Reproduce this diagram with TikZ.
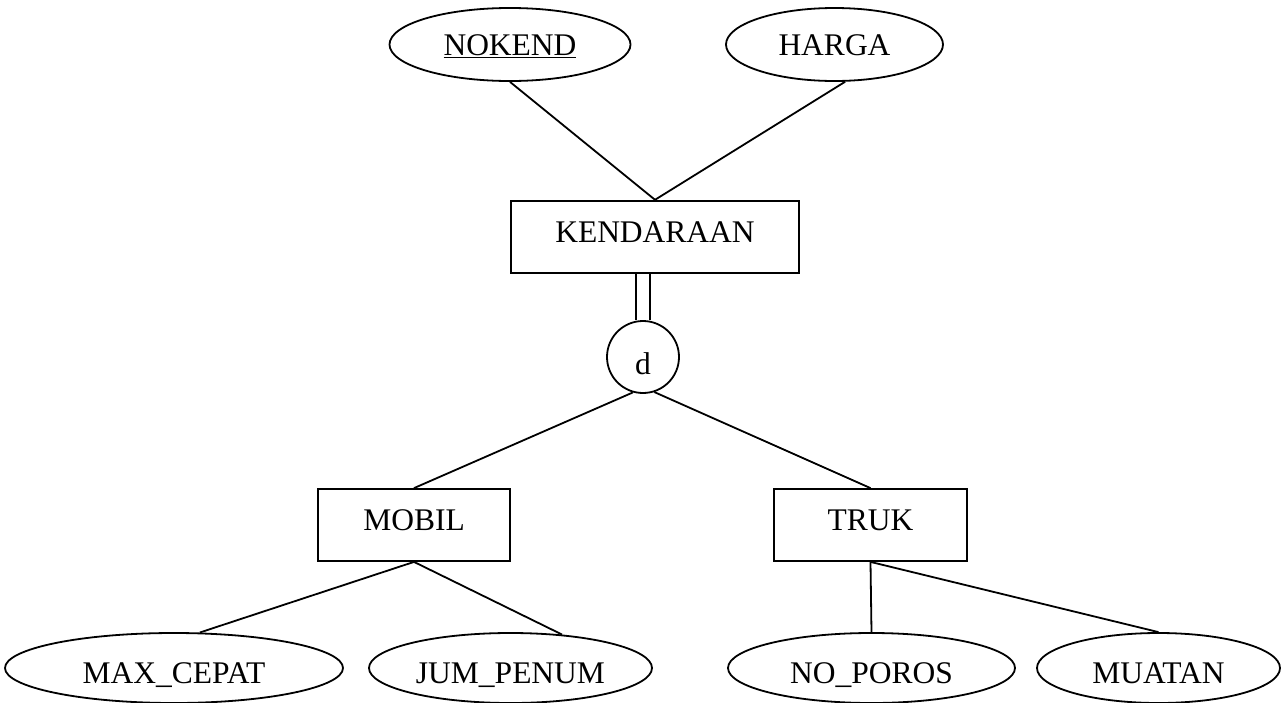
\documentclass[tikz,border=0pt]{standalone}
\usepackage{fontspec}
\setmainfont{Liberation Serif}
\usetikzlibrary{shapes.geometric}
\begin{document}
\begin{tikzpicture}[x=1pt,y=-1pt,
  every node/.style={font=\fontsize{31.5}{36}\selectfont, inner sep=0pt, line width=1.8pt, draw},
  entity/.style={rectangle, minimum height=72pt, text height=22pt, text depth=11pt},
  attr/.style={ellipse, minimum height=73pt, text height=22pt, text depth=1pt},
  lowattr/.style={ellipse, minimum height=70pt, text height=30pt, text depth=0pt},
  spec/.style={circle, minimum size=72pt, text height=34pt, text depth=0pt},
  link/.style={line width=1.8pt}]
\useasboundingbox (0,0) rectangle (1283,702);

% entities
\node[entity, minimum width=288pt] (kend) at (655,236.7) {KENDARAAN};
\node[entity, minimum width=192pt] (mobil) at (414,525) {MOBIL};
\node[entity, minimum width=193pt] (truk) at (870.5,525) {TRUK};

% specialisation circle
\node[spec] (d) at (643,357) {d};

% attributes
\node[attr, minimum width=241pt] (nokend) at (510,44.5) {\underline{NOKEND}};
\node[attr, minimum width=217pt] (harga) at (834.5,44.5) {HARGA};
\node[lowattr, minimum width=338pt] (maxc) at (174,668) {MAX\_CEPAT};
\node[lowattr, minimum width=283pt] (jum) at (510.5,668) {JUM\_PENUM};
\node[lowattr, minimum width=287pt] (nopo) at (871.5,668) {NO\_POROS};
\node[lowattr, minimum width=243pt] (muat) at (1158.5,668) {MUATAN};

% connectors
\draw[link] (nokend.south) -- (kend.north);
\draw[link] (harga.-74) -- (kend.north);
\draw[link, double, double distance=11.5pt] (d.north) -- (d.north |- kend.south);
\draw[link] (d.254) -- (mobil.north);
\draw[link] (d.288) -- (truk.north);
\draw[link] (mobil.south) -- (maxc.54);
\draw[link] (mobil.south) -- (jum.33);
\draw[link] (truk.south) -- (nopo.north);
\draw[link] (truk.south) -- (muat.north);
\end{tikzpicture}
\end{document}
